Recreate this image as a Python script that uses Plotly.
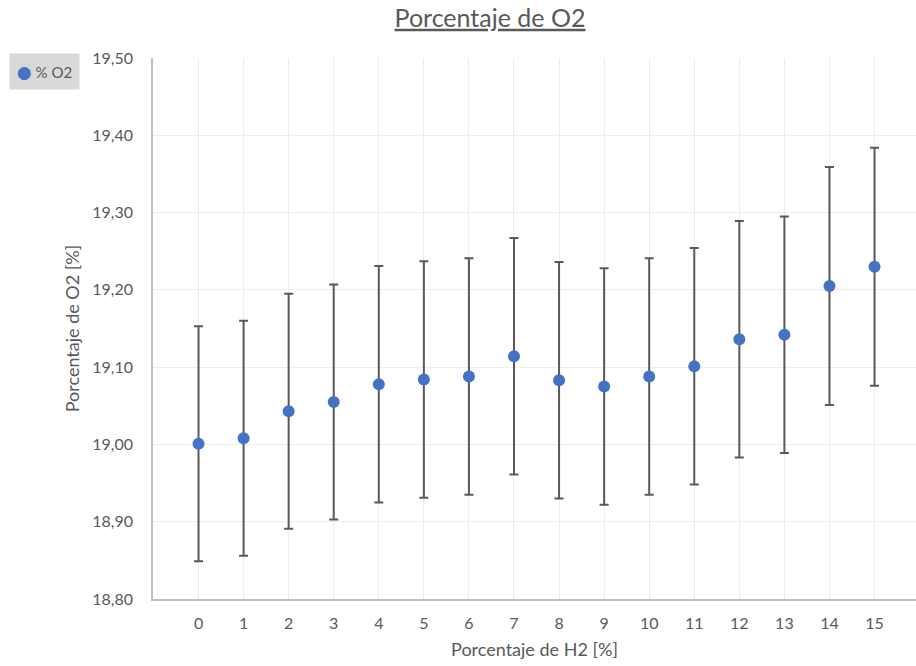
import plotly.graph_objects as go

h2_pct = list(range(16))
o2_pct = [19.001, 19.008, 19.043, 19.055, 19.078, 19.084, 19.088, 19.114,
          19.083, 19.075, 19.088, 19.101, 19.136, 19.142, 19.205, 19.230]
o2_err = [0.152, 0.152, 0.152, 0.152, 0.153, 0.153, 0.153, 0.153,
          0.153, 0.153, 0.153, 0.153, 0.153, 0.153, 0.154, 0.154]
y_ticks = [18.8, 18.9, 19.0, 19.1, 19.2, 19.3, 19.4, 19.5]
series_name = "% O2"

FONT = "Lato, 'Open Sans', sans-serif"
GREY = "#595959"
BLUE = "#4472C4"

fig = go.Figure()
fig.add_trace(go.Scatter(
    x=h2_pct, y=o2_pct, mode="markers", name=series_name, showlegend=False,
    marker=dict(color=BLUE, size=12, line=dict(width=0)),
    error_y=dict(type="data", array=o2_err, visible=True,
                 color="#595959", thickness=2, width=4.5),
))

W, H = 916, 666
L, R, T, B = 153, 0, 58, 67
PW, PH = W - L - R, H - T - B

# legend box (drawn as annotation to match the compact layout)
fig.add_annotation(
    xref="paper", yref="paper",
    x=(9 - L) / PW, y=1 + (T - 53) / PH, xanchor="left", yanchor="top",
    text=f'<span style="color:{BLUE};font-size:17px;font-family:DejaVu Sans">●</span> {series_name}',
    showarrow=False, align="center", bgcolor="#D9D9D9",
    width=67, height=33, borderpad=1,
    font=dict(size=15, color=GREY, family=FONT),
)

fig.update_layout(
    width=W, height=H,
    margin=dict(l=L, r=R, t=T, b=B),
    paper_bgcolor="white", plot_bgcolor="white",
    separators=",.",
    font=dict(family=FONT, color=GREY, size=15),
    title=dict(text="<u>Porcentaje de O2</u>", x=(490) / W, xanchor="center",
               y=1 - 18 / H, yanchor="middle",
               font=dict(size=25, color=GREY, family=FONT)),
    showlegend=False,
    xaxis=dict(
        range=[-1.01, 15.92], tickvals=h2_pct, ticktext=[str(v) for v in h2_pct],
        showgrid=True, gridcolor="#EDEDED", gridwidth=1,
        zeroline=False, showline=True, linecolor="#BFBFBF", linewidth=1.5,
        ticks="", ticklabelstandoff=9,
        tickfont=dict(size=16, color=GREY),
        title=dict(text="Porcentaje de H2 [%]", font=dict(size=18, color=GREY), standoff=12),
    ),
    yaxis=dict(
        range=[18.8, 19.5], tickvals=y_ticks, tickformat=".2f",
        showgrid=True, gridcolor="#EDEDED", gridwidth=1,
        zeroline=False, showline=True, linecolor="#BFBFBF", linewidth=1.5,
        ticks="", ticklabelstandoff=15,
        tickfont=dict(size=16, color=GREY),
        title=dict(text="Porcentaje de O2 [%]", font=dict(size=18, color=GREY), standoff=8),
    ),
)

fig.write_html("out.html")
